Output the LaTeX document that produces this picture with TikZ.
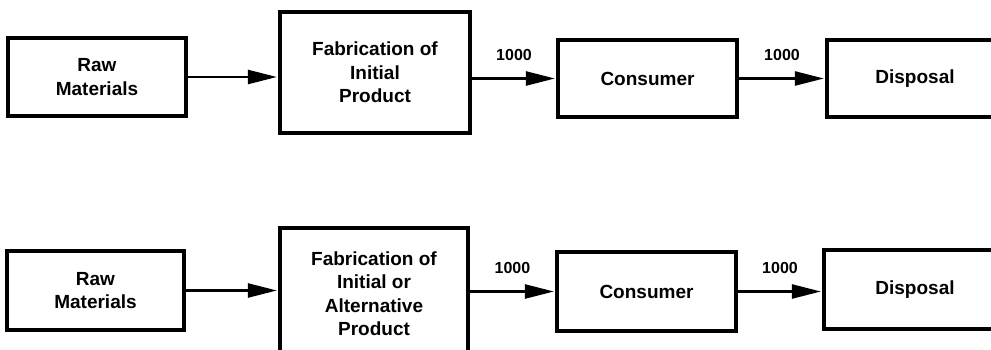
\documentclass[tikz,border=0pt]{standalone}
\usepackage{fontspec}
\setmainfont{Liberation Sans}
\usetikzlibrary{arrows.meta}
\tikzset{
  box/.style={draw, line width=3.2pt, align=center, inner sep=0pt,
    font=\fontsize{19}{23.5}\selectfont\bfseries},
  flow/.style={line width=2.4pt, -{Triangle[length=29pt,width=14pt]}, shorten >=1.5pt},
  qty/.style={font=\fontsize{16}{18}\selectfont\bfseries, inner sep=0pt, midway, yshift=24pt}
}
\begin{document}
\begin{tikzpicture}[x=1pt,y=-1pt]
\useasboundingbox (0,0) rectangle (991,350);
\clip (0,0) rectangle (991,350);
% top row
\node[box, minimum width=178pt, minimum height=78pt] (rawT) at (97,77) {Raw\\Materials};
\node[box, minimum width=190pt, minimum height=121pt] (fabT) at (375,72.5) {Fabrication of\\Initial\\Product};
\node[box, minimum width=179pt, minimum height=77pt] (consT) at (647.5,78.5) {Consumer};
\node[box, minimum width=176pt, minimum height=77pt] (dispT) at (915,78.5) {Disposal};
\draw[flow] (rawT.east) -- (rawT.east -| fabT.west);
\draw[flow] (consT.west -| fabT.east) -- node[qty] {1000} (consT.west);
\draw[flow] (consT.east) -- node[qty] {1000} (consT.east -| dispT.west);
% bottom row
\node[box, minimum width=177pt, minimum height=79pt] (rawB) at (95.5,290.5) {Raw\\Materials};
\node[box, minimum width=188pt, minimum height=131pt] (fabB) at (374,293.5) {Fabrication of\\Initial or\\Alternative\\Product};
\node[box, minimum width=179pt, minimum height=79pt] (consB) at (646.5,291.5) {Consumer};
\node[box, minimum width=182pt, minimum height=79pt] (dispB) at (915,289.5) {Disposal};
\draw[flow] (rawB.east) -- (rawB.east -| fabB.west);
\draw[flow] (consB.west -| fabB.east) -- node[qty] {1000} (consB.west);
\draw[flow] (consB.east) -- node[qty] {1000} (consB.east -| dispB.west);
\end{tikzpicture}
\end{document}
